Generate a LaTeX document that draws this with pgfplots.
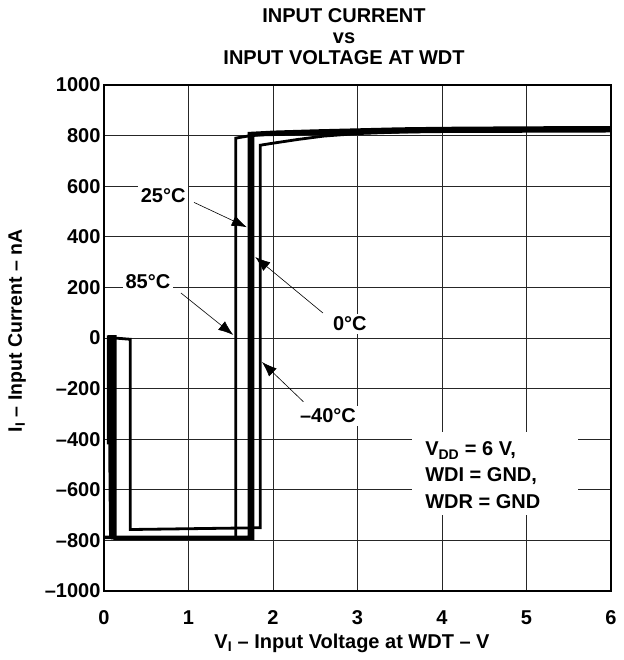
\documentclass[border=0pt]{standalone}
\usepackage{pgfplots}
\pgfplotsset{compat=1.18}
\usetikzlibrary{arrows.meta}
\usepackage{fontspec}
\setmainfont{Liberation Sans}
\newcommand{\fz}{\fontsize{20}{22}\selectfont\bfseries}
\begin{document}
\begin{tikzpicture}[font=\bfseries]
\path[use as bounding box] (-104pt,-69pt) rectangle (519pt,591pt);
\begin{axis}[
  at={(0pt,0pt)}, anchor=south west,
  scale only axis, width=507pt, height=506pt,
  xmin=0, xmax=6, ymin=-1000, ymax=1000,
  xtick={0,1,2,3,4,5,6},
  xticklabels={0,1,2,3,4,5,6},
  ytick={-1000,-800,-600,-400,-200,0,200,400,600,800,1000},
  yticklabels={--1000,--800,--600,--400,--200,0,200,400,600,800,1000},
  grid=major,
  major grid style={black!85, line width=0.7pt},
  major tick length=0pt,
  axis line style={line width=1.8pt},
  tick label style={font=\fz},
  xticklabel style={anchor=base, yshift=-33pt},
  clip=false,
]
% 85 C
\addplot[black, line width=2.8pt] coordinates {
(0.05,-420) (0.05,5) (0.10,5) (0.10,-790) (1.56,-790) (1.56,790)
(1.70,798) (2,808) (2.5,814) (3,818) (3.5,821) (4,823) (5,824) (6,825)};
% 25 C
\addplot[black, line width=3.4pt] coordinates {
(0.01,-788) (0.12,-788) (0.12,5) (0.07,5) (0.07,-400) (0.08,-788)
(1.72,-788) (1.72,808) (2,813) (2.5,818) (3,822) (3.5,826) (4,828) (5,830) (6,831)};
% 0 C
\addplot[black, line width=3.4pt] coordinates {
(0.09,-300) (0.09,5) (0.13,5) (0.13,-792) (1.76,-792) (1.76,803)
(2,805) (2.5,809) (3,812) (3.5,815) (4,817) (5,818) (6,819)};
% -40 C
\addplot[black, line width=2.8pt] coordinates {
(0.12,0) (0.31,-5) (0.31,-757) (1.85,-750) (1.85,762)
(2,770) (2.3,785) (2.6,798) (3,808) (3.5,814) (4,818) (5,820) (6,821)};

% annotations
\draw[-{Latex[length=15pt,width=11pt]}, line width=0.6pt] (axis cs:1.065,536) -- (axis cs:1.69,438);
\draw[-{Latex[length=15pt,width=11pt]}, line width=0.6pt] (axis cs:0.91,178) -- (axis cs:1.53,12);
\draw[-{Latex[length=15pt,width=11pt]}, line width=0.6pt] (axis cs:2.59,99) -- (axis cs:1.79,320);
\draw[-{Latex[length=15pt,width=11pt]}, line width=0.6pt] (axis cs:2.36,-252) -- (axis cs:1.87,-95);
\node[fill=white, inner sep=3pt, font=\fz] at (axis cs:0.70,564) {25°C};
\node[fill=white, inner sep=3pt, font=\fz] at (axis cs:0.52,221) {85°C};
\node[fill=white, inner sep=3pt, font=\fz] at (axis cs:2.91,55) {0°C};
\node[fill=white, inner sep=3pt, font=\fz] at (axis cs:2.65,-308) {--40°C};
\fill[white] (axis cs:3.645,-371) rectangle (axis cs:5.61,-698);
\node[anchor=base west, inner sep=0pt, font=\fz] at (axis cs:3.80,-466) {V\textsubscript{DD} = 6 V,};
\node[anchor=base west, inner sep=0pt, font=\fz] at (axis cs:3.80,-569) {WDI = GND,};
\node[anchor=base west, inner sep=0pt, font=\fz] at (axis cs:3.80,-672) {WDR = GND};
\end{axis}
\node[anchor=base, font=\fz] at (240pt,568pt) {INPUT CURRENT};
\node[anchor=base, font=\fz] at (240pt,547pt) {vs};
\node[anchor=base, font=\fz] at (240pt,526pt) {INPUT VOLTAGE AT WDT};
\node[anchor=base, font=\fz] at (248pt,-57pt) {V\textsubscript{I} -- Input Voltage at WDT -- V};
\node[rotate=90, anchor=center, font=\fontsize{19.5}{22}\selectfont\bfseries] at (-87pt,260pt) {I\textsubscript{I} -- Input Current -- nA};
\end{tikzpicture}
\end{document}
